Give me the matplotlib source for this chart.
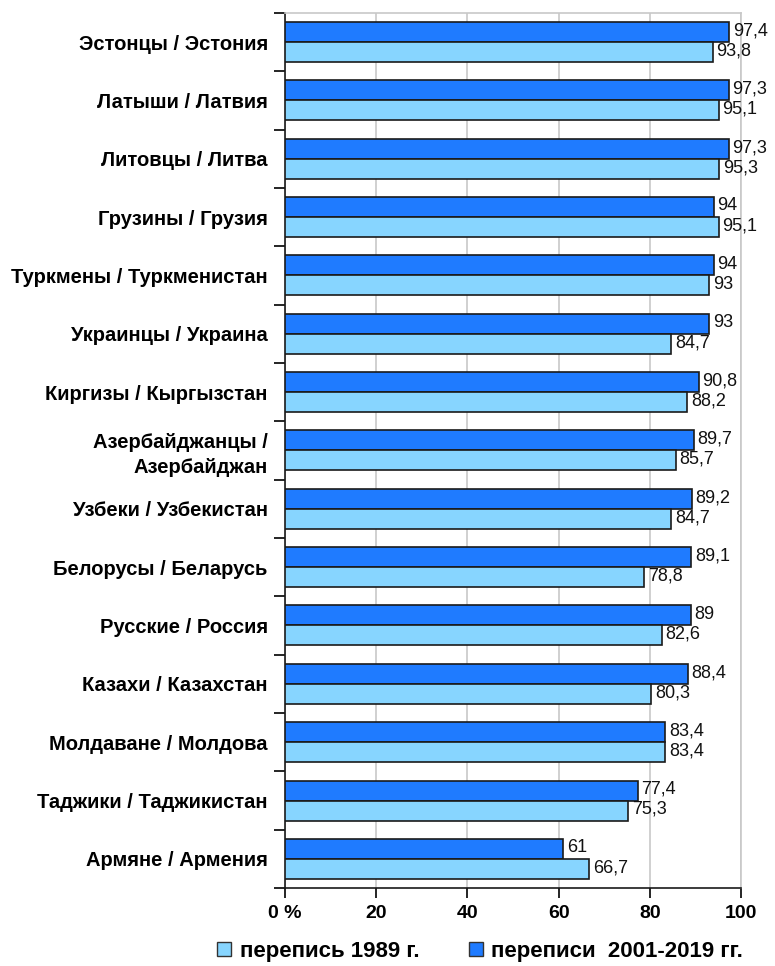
import numpy as np
import matplotlib.pyplot as plt

plt.rcParams['font.family'] = ['Liberation Sans', 'DejaVu Sans']

# Данные
categories = ['Эстонцы / Эстония', 'Латыши / Латвия', 'Литовцы / Литва',
              'Грузины / Грузия', 'Туркмены / Туркменистан', 'Украинцы / Украина',
              'Киргизы / Кыргызстан', 'Азербайджанцы /\nАзербайджан',
              'Узбеки / Узбекистан', 'Белорусы / Беларусь', 'Русские / Россия',
              'Казахи / Казахстан', 'Молдаване / Молдова', 'Таджики / Таджикистан',
              'Армяне / Армения']
census_1989 = [93.8, 95.1, 95.3, 95.1, 93, 84.7, 88.2, 85.7, 84.7, 78.8, 82.6, 80.3, 83.4, 75.3, 66.7]
census_2001_2019 = [97.4, 97.3, 97.3, 94, 94, 93, 90.8, 89.7, 89.2, 89.1, 89, 88.4, 83.4, 77.4, 61]
x_ticks = [0, 20, 40, 60, 80, 100]
x_ticklabels = ['0 %', '20', '40', '60', '80', '100']

light = '#87D5FF'
dark = '#1F7BFF'

fig = plt.figure(figsize=(7.75, 9.66), dpi=100)
ax = fig.add_axes([0.368, 0.0807, 0.588, 0.906])

n = len(categories)
y = np.arange(n)
h = 0.343

b2 = ax.barh(y - h / 2, census_2001_2019, height=h, color=dark, edgecolor='#1a1a1a', linewidth=1.2, zorder=3)
b1 = ax.barh(y + h / 2, census_1989, height=h, color=light, edgecolor='#1a1a1a', linewidth=1.2, zorder=3)

def fmt(v):
    return ('%g' % v).replace('.', ',')

for bars, vals in ((b2, census_2001_2019), (b1, census_1989)):
    for bar, v in zip(bars, vals):
        ax.text(v + 0.8, bar.get_y() + bar.get_height() / 2 - 0.02, fmt(v),
                va='center', ha='left', fontsize=13, color='#111111', zorder=4)

ax.set_xlim(0, 100)
ax.set_ylim(n - 0.5, -0.5)
ax.set_xticks(x_ticks)
ax.set_xticklabels(x_ticklabels, fontsize=14, fontweight='bold')
ax.set_yticks(y)
ax.set_yticklabels(categories, fontsize=14.5, fontweight='bold', linespacing=1.35)
ax.set_yticks(np.arange(n + 1) - 0.5, minor=True)
ax.tick_params(axis='y', which='major', length=0, pad=12.5)
ax.tick_params(axis='y', which='minor', length=8, width=1.2, direction='out')
ax.tick_params(axis='x', length=7, width=1.2, direction='out', pad=5)

ax.grid(axis='x', color='#c8c8c8', linewidth=1.2, zorder=0)
for s in ('top', 'right'):
    ax.spines[s].set_color('#c8c8c8')
    ax.spines[s].set_linewidth(1.2)
for s in ('left', 'bottom'):
    ax.spines[s].set_color('#1a1a1a')
    ax.spines[s].set_linewidth(1.2)

h1 = plt.Line2D([], [], marker='s', linestyle='none', markersize=9.5,
                markerfacecolor=light, markeredgecolor='#333333')
h2 = plt.Line2D([], [], marker='s', linestyle='none', markersize=9.5,
                markerfacecolor=dark, markeredgecolor='#333333')
fig.legend([h1, h2], ['перепись 1989 г.', 'переписи  2001-2019 гг.'],
           loc='center', bbox_to_anchor=(0.619, 0.0155), ncol=2, frameon=False,
           prop={'weight': 'bold', 'size': 16}, handlelength=0.7,
           handletextpad=0.35, columnspacing=2.2)

fig.savefig('out.png', dpi=100)
